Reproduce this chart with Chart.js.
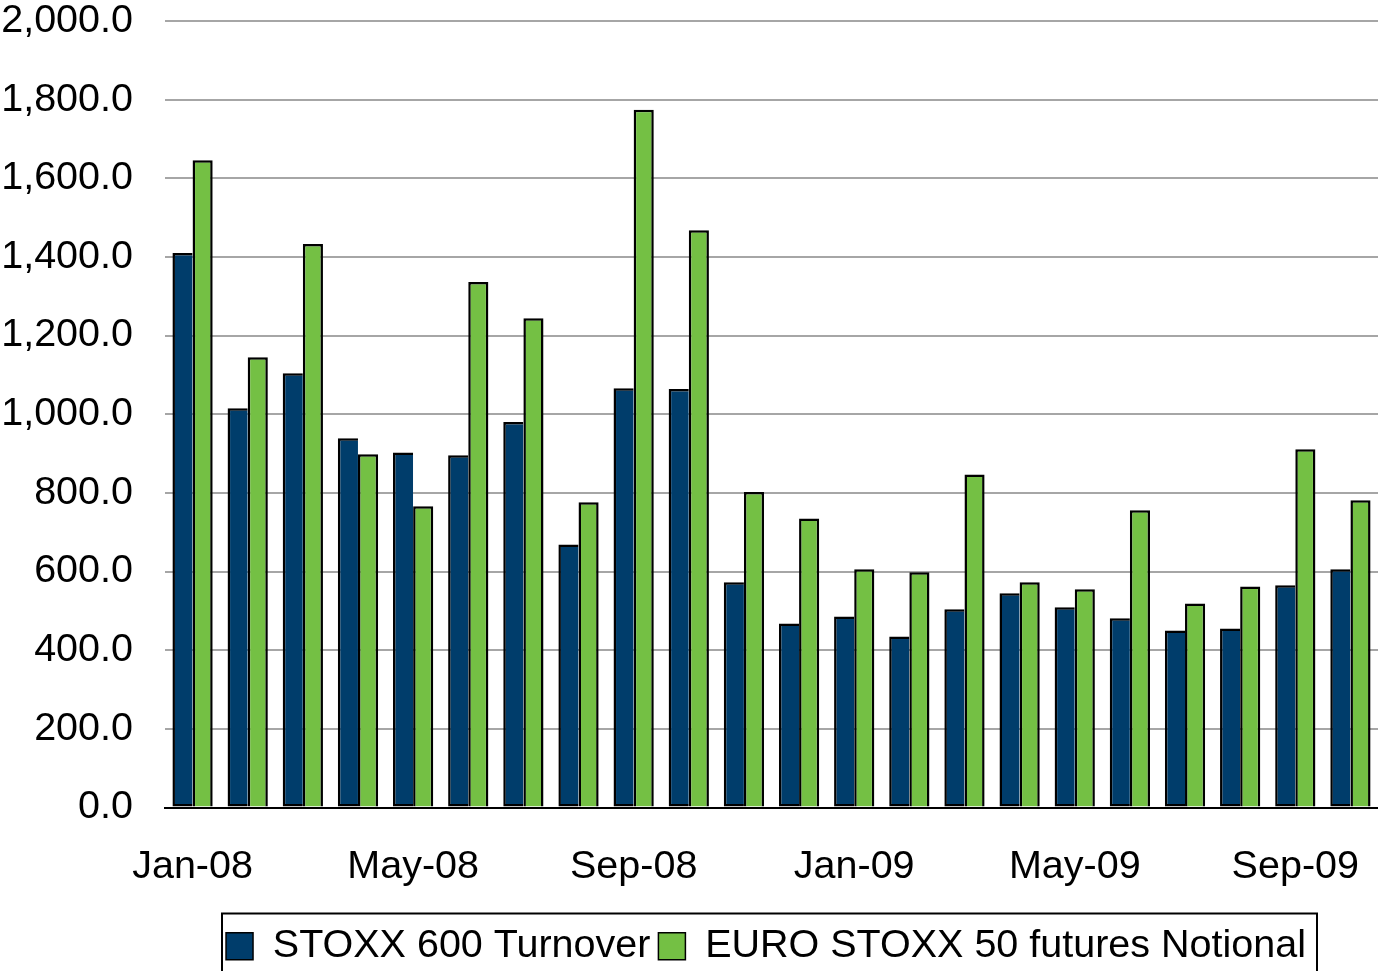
<!DOCTYPE html>
<html>
<head>
<meta charset="utf-8">
<script src="https://cdn.jsdelivr.net/npm/chart.js@4.4.1/dist/chart.umd.min.js"></script>
<style>
  html, body { margin: 0; padding: 0; background: #fff; }
  #wrap { width: 1378px; height: 971px; }
</style>
</head>
<body>
<div id="wrap"><canvas id="myChart"></canvas></div>
<script>
// months Jan-08 .. Oct-09
var months = ['Jan-08','Feb-08','Mar-08','Apr-08','May-08','Jun-08','Jul-08','Aug-08','Sep-08','Oct-08','Nov-08','Dec-08',
              'Jan-09','Feb-09','Mar-09','Apr-09','May-09','Jun-09','Jul-09','Aug-09','Sep-09','Oct-09'];
var stoxx600 = [1410, 1015, 1104, 939, 903, 896, 980, 669, 1066, 1064, 573, 468,
                486, 435, 504, 545, 509, 481, 450, 455, 565, 606];
var euroStoxx50 = [1646, 1145, 1433, 898, 766, 1336, 1244, 776, 1774, 1468, 802, 735,
                   606, 598, 847, 573, 555, 756, 519, 562, 911, 781];
var seriesNames = ['STOXX 600 Turnover', 'EURO STOXX 50 futures Notional'];
var yMin = 0, yMax = 2000, yStep = 200;

var fontFam = '"Liberation Sans", Arial, sans-serif';
var fontSize = 39.5;
var legendLeft = 222, legendRight = 1317, legendShift = 77;

// legend sits in a box offset to the right, like the original
var legendBox = {
    id: 'legendBox',
    afterLayout: function (chart) {
        chart.legend.left += legendShift;
        chart.legend.right += legendShift;
    },
    afterDraw: function (chart) {
        var lg = chart.legend;
        var ctx = chart.ctx;
        ctx.save();
        ctx.strokeStyle = '#000';
        ctx.lineWidth = 2;
        ctx.strokeRect(legendLeft, lg.top - 5, legendRight - legendLeft, chart.height);
        ctx.restore();
    }
};

var ctx = document.getElementById('myChart');
var myChart = new Chart(ctx, {
    type: 'bar',
    data: {
        labels: months,
        datasets: [{
            label: seriesNames[0],
            data: stoxx600,
            backgroundColor: '#003D6B',
            borderColor: '#000',
            borderWidth: 2.5,
            borderSkipped: 'right'
        }, {
            label: seriesNames[1],
            data: euroStoxx50,
            backgroundColor: '#74C044',
            borderColor: '#000',
            borderWidth: 2.5
        }]
    },
    plugins: [legendBox],
    options: {
        responsive: true,
        maintainAspectRatio: false,
        animation: false,
        layout: { padding: { top: 0, left: 0, right: 0, bottom: -5 } },
        datasets: { bar: { categoryPercentage: 0.73, barPercentage: 1.0 } },
        plugins: {
            tooltip: { enabled: false },
            legend: {
                position: 'bottom',
                labels: {
                    font: { family: fontFam, size: fontSize, lineHeight: 1.0 },
                    color: '#000',
                    boxWidth: 27,
                    boxHeight: 27,
                    padding: 8,
                    generateLabels: function (chart) {
                        return chart.data.datasets.map(function (ds, i) {
                            return {
                                text: ds.label,
                                fillStyle: ds.backgroundColor,
                                strokeStyle: '#000',
                                lineWidth: 1.5,
                                datasetIndex: i,
                                fontColor: '#000'
                            };
                        });
                    }
                }
            }
        },
        scales: {
            x: {
                grid: { display: false, drawTicks: false },
                border: { color: '#000', width: 2 },
                afterFit: function (scale) {
                    scale.paddingLeft = 0;
                    scale.paddingRight = 0;
                    scale.height = 111;
                },
                ticks: {
                    autoSkip: false,
                    maxRotation: 0,
                    padding: 36,
                    color: '#000',
                    font: { family: fontFam, size: fontSize },
                    callback: function (v, i) { return i % 4 === 0 ? months[i] : ''; }
                }
            },
            y: {
                min: yMin,
                max: yMax,
                grid: { color: '#A6A6A6', lineWidth: 2, drawTicks: false },
                border: { display: false },
                afterFit: function (scale) {
                    scale.paddingTop = 21;
                    scale.paddingBottom = 0;
                    scale.width = 165;
                },
                ticks: {
                    stepSize: yStep,
                    padding: 32,
                    color: '#000',
                    font: { family: fontFam, size: fontSize },
                    callback: function (v) {
                        return v.toLocaleString('en-US', { minimumFractionDigits: 1, maximumFractionDigits: 1 });
                    }
                }
            }
        }
    }
});
</script>
</body>
</html>
